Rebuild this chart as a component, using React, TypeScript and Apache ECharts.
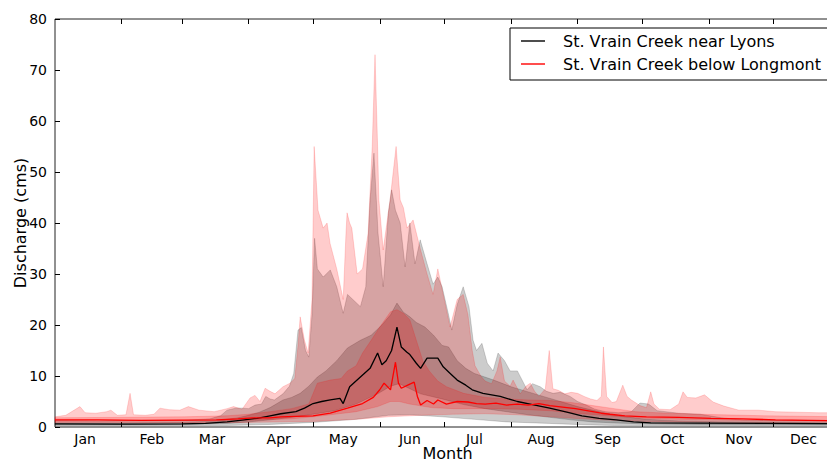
import React, { useEffect, useRef } from "react";
import * as echarts from "echarts";

// Month names, month boundaries (day of year) and label positions (15th of each month)
const months = ["Jan", "Feb", "Mar", "Apr", "May", "Jun", "Jul", "Aug", "Sep", "Oct", "Nov", "Dec"];
const monthStartDays = [0, 31, 59, 90, 120, 151, 181, 212, 243, 273, 304, 334, 365];
const tickDays = monthStartDays.slice(1, -1);
const labelDays = monthStartDays.slice(0, 12).map((d) => d + 14);

const seriesNames = ["St. Vrain Creek near Lyons", "St. Vrain Creek below Longmont"];

// [day of year, discharge (cms)] — St. Vrain Creek near Lyons
const lyonsMax = [[0,1.3],[20,1.2],[40,1.3],[60,1.3],[72,1.6],[77,2.2],[80,3.3],[84,3.7],[87,3.7],[90,3.6],[93,4.3],[96,4.5],[98,6.0],[100,5.5],[102,5.3],[106,6.5],[109,8.0],[111,10.5],[113,19],[114.5,19.5],[116.5,15],[118,13.7],[119.5,22],[120.7,37],[122,31],[124.7,29.4],[128,30.8],[131,27.5],[134,22.3],[136,26],[138.5,25],[142,23.6],[144.5,27.5],[146.5,44.5],[148.3,53.7],[150.2,38],[152.6,27.5],[155,42],[156.5,46.5],[158.3,42.5],[160.5,40],[162.8,31.4],[165,40],[167.4,32],[169.8,36.7],[173,32],[175.8,28],[178,29.4],[180,27.5],[183,22],[184.5,19],[187,24],[189.8,27.5],[192.5,23.6],[194.4,17],[196,15],[198.5,16.4],[201,12.5],[203.7,11],[206,14.5],[209,13],[211.6,11],[215,11],[219.5,7.3],[222,8.5],[225.6,7.9],[228.5,7.0],[231.6,6.6],[235,6.8],[239.5,6.0],[243,5.0],[247,4.3],[251,3.5],[256,3.0],[262,2.8],[268,3.0],[272,4.7],[276,4.5],[280,3.2],[290,2.7],[300,2.5],[310,1.8],[320,1.4],[340,1.3],[365,1.3]];
const lyonsP75 = [[0,0.8],[30,0.8],[60,0.9],[75,1.2],[85,1.8],[90,2.3],[95,2.9],[100,3.8],[106,5.3],[110,5.8],[114,6.6],[118,8],[122,9.8],[126,11],[131,13],[136,15.5],[142,17],[147,18],[152,20],[156,22],[159,24.3],[162,22.5],[165,21.6],[168,20.5],[172,19.6],[176,18],[180,16],[183,15.7],[187,13],[191,11.5],[195,10.5],[204,9.2],[212,7.9],[227,6.0],[243,4.0],[255,2.8],[265,2.0],[275,1.5],[290,1.2],[310,1.0],[340,0.9],[365,0.8]];
const lyonsMedian = [[0,0.6],[30,0.55],[59,0.6],[70,0.7],[80,1.0],[88,1.4],[94,1.7],[100,2.2],[105,2.6],[112,3.0],[116,3.7],[120,4.6],[124,5.0],[128,5.3],[132.5,5.6],[134,4.6],[137,7.9],[142,9.8],[146.5,11.5],[150,14.5],[152,12.2],[154,13],[156.5,15],[159,19.6],[161,15.7],[163.5,14.7],[165,14.2],[168,12.5],[170,11.5],[173,13.5],[178,13.5],[180.5,11.8],[184,10.4],[187,9.2],[191,8.2],[194,7.3],[199,6.6],[207,6.0],[215,5.0],[222,4.4],[230,3.7],[238,2.9],[245,2.2],[253,1.7],[261,1.4],[269,1.0],[277,0.8],[300,0.75],[330,0.7],[365,0.65]];
const lyonsP25 = [[0,0.45],[60,0.5],[80,0.7],[90,1.0],[100,1.4],[110,1.9],[120,2.5],[130,3.2],[140,4.5],[150,6.5],[156,8],[160,8.5],[165,7.5],[170,6.5],[180,5.5],[190,4.4],[200,3.6],[210,3.0],[220,2.4],[230,1.9],[240,1.4],[250,1.0],[260,0.8],[275,0.6],[300,0.5],[365,0.45]];
const lyonsMin = [[0,0.25],[80,0.3],[100,0.5],[120,0.9],[140,1.5],[155,2.3],[165,2.4],[180,2.0],[195,1.5],[210,1.0],[230,0.7],[245,0.45],[260,0.3],[365,0.25]];

// [day of year, discharge (cms)] — St. Vrain Creek below Longmont
const longmontMax = [[0,2.0],[5,2.3],[11.6,4.0],[14,2.8],[19,2.7],[24,3.0],[26,3.3],[29,2.3],[33,2.4],[34.9,6.6],[36.5,2.4],[42,2.3],[46,2.5],[48.8,3.7],[53,3.4],[58,3.3],[62,4.0],[67,3.3],[74,3.0],[80,3.6],[83,4.0],[87,3.5],[90.7,5.7],[93,6.2],[95.3,5.0],[97.7,7.6],[100,7.0],[102.3,6.5],[106,7.9],[109.3,8.6],[111.5,9.5],[113,16],[114,21.6],[116,17],[117.7,14.5],[119.5,25],[120.5,55],[122.3,42.5],[124.7,39],[126.5,40],[127.9,36],[131,31],[134,25],[135.3,38],[135.8,42],[137,40],[138,39],[140.5,30],[143,31],[145.6,38],[147.5,55],[148.8,73],[150,55],[150.6,44.5],[152.6,34.7],[155.8,44.5],[158.6,55],[160.5,44.5],[162,43],[163.7,39],[166.5,40.6],[169.8,35],[173,30],[175.8,26],[178,31],[180.5,26],[183.7,19.6],[187,25],[189.8,26],[192,22],[194,15],[195.3,12],[198,10],[200,9],[203,8.5],[205.5,11],[207,13.7],[209,9],[211.6,8],[213,9.2],[216.3,6.5],[219,8],[221,8.6],[223,7],[225,6],[228,7.5],[229.8,15],[231.5,7.5],[234,7.2],[237,6.5],[240,6.8],[243,6.6],[246,6],[249,5.5],[252,5.2],[254,6],[255,15.7],[256.5,6],[259,4.8],[261,5],[264,8.2],[266,6],[268,5.3],[272,4.2],[275,3.8],[277,6.9],[278.5,4.5],[281,3.5],[286,3.4],[290,4.5],[292,6.9],[294,5.8],[298,5.7],[302,6.3],[306,4.9],[311,4.1],[318,3.3],[327,3.3],[335,3.0],[345,2.9],[355,2.8],[365,2.8]];
const longmontP75 = [[0,1.8],[30,1.9],[60,2.0],[80,2.2],[90,2.5],[100,3.0],[110,3.6],[118,4.5],[122,8.6],[128,9.2],[133,9.5],[136,11],[140,12],[143,14.5],[147,17],[151,19.6],[156,22.6],[159,23],[162,22.3],[165,21],[168,17],[171,13],[174,11],[178,9],[182,7.9],[190,6.6],[200,5.8],[210,5.5],[220,5.3],[230,5.2],[240,4.8],[250,4.2],[260,3.6],[270,3.0],[280,2.8],[300,2.5],[330,2.2],[365,2.0]];
const longmontMedian = [[0,1.4],[20,1.4],[40,1.3],[59,1.35],[75,1.4],[85,1.6],[92,1.8],[100,1.8],[105,2.0],[112,2.1],[120,2.2],[128,2.7],[136,3.7],[143,4.6],[148,5.8],[151,7.3],[153,8.6],[156,7.3],[158.3,12.7],[159.7,8.6],[161,7.6],[164,8.2],[167,8.8],[168.5,6.0],[170,4.3],[173,5.2],[176,4.5],[178,5.3],[182,4.5],[187,5.0],[192,4.9],[196,4.6],[200,4.5],[205,4.7],[210,4.3],[215,4.5],[220,4.3],[225,4.6],[230,4.2],[236,3.9],[242,3.6],[246,3.3],[250,3.0],[254,2.7],[258,2.5],[265,2.2],[275,2.0],[290,1.9],[305,1.7],[320,1.6],[335,1.4],[350,1.3],[365,1.2]];
const longmontP25 = [[0,1.1],[60,1.2],[90,1.3],[110,1.6],[120,2.0],[130,2.5],[140,3.0],[150,4.0],[156,5.0],[160,5.0],[165,4.5],[175,3.8],[185,3.6],[200,3.6],[215,3.5],[230,3.2],[245,2.6],[260,2.1],[275,1.7],[300,1.4],[330,1.2],[365,1.1]];
const longmontMin = [[0,0.8],[60,0.8],[90,0.9],[120,1.1],[140,1.5],[155,2.0],[170,2.3],[185,2.5],[200,2.6],[215,2.4],[230,2.0],[245,1.6],[260,1.3],[280,1.0],[320,0.9],[365,0.8]];

const GRAY = "rgba(0,0,0,0.2)";
const PINK = "rgba(255,0,0,0.2)";

function bandSeries(upper: number[][], lower: number[][], color: string, z: number) {
  return {
    type: "custom",
    coordinateSystem: "cartesian2d",
    xAxisIndex: 0,
    yAxisIndex: 0,
    silent: true,
    z,
    data: [[0, 0]],
    renderItem: (_params: any, api: any) => {
      const pts = [
        ...upper.map((p) => api.coord(p)),
        ...lower.slice().reverse().map((p) => api.coord(p)),
      ];
      return {
        type: "polygon",
        shape: { points: pts },
        style: { fill: color, stroke: color, lineWidth: 0.8 },
      };
    },
  };
}

export default function App() {
  const ref = useRef<HTMLDivElement>(null);

  useEffect(() => {
    if (!ref.current) return;
    const chart = echarts.init(ref.current, null, { renderer: "svg" });
    const font = "DejaVu Sans";
    const option: any = {
      animation: false,
      backgroundColor: "#fff",
      textStyle: { fontFamily: font },
      grid: {
        left: 55,
        top: 19,
        right: -13,
        bottom: 36,
        show: true,
        borderColor: "#222",
        borderWidth: 1,
        outerBoundsMode: "none",
      },
      legend: {
        data: seriesNames,
        orient: "vertical",
        left: 510,
        top: 28,
        padding: [5, 22, 8, 11],
        icon: "rect",
        itemWidth: 24,
        itemHeight: 1.4,
        itemGap: 7,
        backgroundColor: "#fff",
        borderColor: "#000",
        borderWidth: 1,
        borderRadius: 0,
        selectedMode: false,
        textStyle: { fontSize: 16, fontFamily: font, color: "#000", padding: [0, 0, 0, 13] },
      },
      xAxis: [
        {
          type: "value",
          min: 0,
          max: 365,
          position: "bottom",
          axisLine: { show: false },
          splitLine: { show: false },
          axisTick: { inside: true, length: 5, customValues: tickDays, lineStyle: { color: "#000" } },
          axisLabel: {
            customValues: labelDays,
            formatter: (v: number) => months[labelDays.indexOf(v)] ?? "",
            fontSize: 14,
            color: "#000",
            margin: 5,
            fontFamily: font,
          },
          name: "Month",
          nameLocation: "middle",
          nameGap: 18,
          nameMoveOverlap: false,
          nameTextStyle: { fontSize: 16, color: "#000", fontFamily: font },
        },
        {
          type: "value",
          min: 0,
          max: 365,
          position: "top",
          axisLine: { show: false },
          splitLine: { show: false },
          axisTick: { inside: true, length: 5, customValues: tickDays, lineStyle: { color: "#000" } },
          axisLabel: { show: false },
        },
      ],
      yAxis: [
        {
          type: "value",
          min: 0,
          max: 80,
          interval: 10,
          axisLine: { show: false },
          splitLine: { show: false },
          axisTick: { inside: true, length: 5, lineStyle: { color: "#000" } },
          axisLabel: { fontSize: 14, color: "#000", margin: 8, fontFamily: font },
          name: "Discharge (cms)",
          nameLocation: "middle",
          nameGap: 27,
          nameMoveOverlap: false,
          nameTextStyle: { fontSize: 16, color: "#000", fontFamily: font },
        },
      ],
      series: [
        bandSeries(lyonsMax, lyonsMin, GRAY, 1),
        bandSeries(lyonsP75, lyonsP25, GRAY, 1),
        {
          type: "line",
          name: seriesNames[0],
          data: lyonsMedian,
          symbol: "none",
          lineStyle: { color: "#000", width: 1.3 },
          itemStyle: { color: "#000" },
          z: 5,
        },
        bandSeries(longmontMax, longmontMin, PINK, 2),
        bandSeries(longmontP75, longmontP25, PINK, 2),
        {
          type: "line",
          name: seriesNames[1],
          data: longmontMedian,
          symbol: "none",
          lineStyle: { color: "#ff0000", width: 1.3 },
          itemStyle: { color: "#ff0000" },
          z: 6,
        },
      ],
    };
    chart.setOption(option);
    return () => chart.dispose();
  }, []);

  return (
    <div
      style={{
        position: "fixed",
        left: 0,
        top: 0,
        width: 827,
        height: 463,
        overflow: "hidden",
        background: "#fff",
      }}
    >
      <div ref={ref} style={{ width: 827, height: 463 }} />
    </div>
  );
}
